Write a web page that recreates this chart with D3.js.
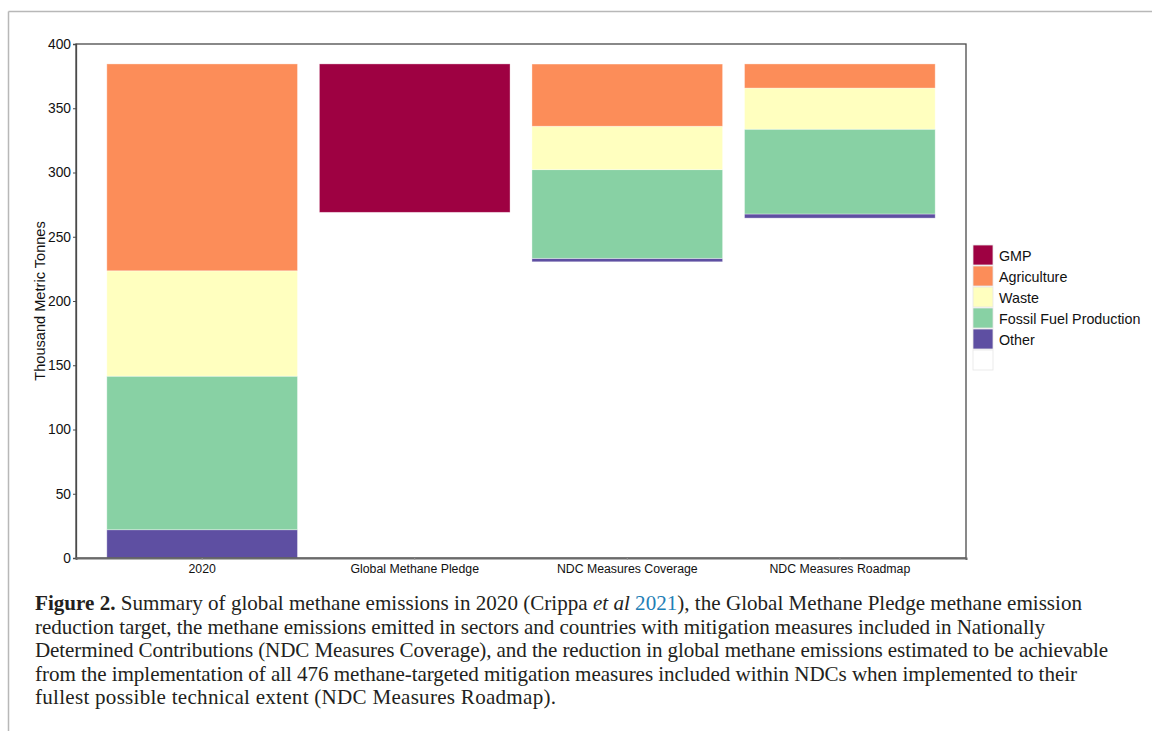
<!DOCTYPE html>
<html>
<head>
<meta charset="utf-8">
<script src="https://cdn.jsdelivr.net/npm/d3@7"></script>
<style>
  html, body { margin: 0; padding: 0; background: #fff; }
  svg { display: block; }
</style>
</head>
<body>
<svg id="chart" width="1152" height="731"></svg>
<script>
// ---- data ----
const categories = ["2020", "Global Methane Pledge", "NDC Measures Coverage", "NDC Measures Roadmap"];
const base        = [0,     269,   230.5, 264.5];
const other       = [22,    0,     2.7,   3.2];
const fossil      = [119.5, 0,     69,    66];
const waste       = [82,    0,     33.8,  32];
const agriculture = [161,   0,     48.4,  18.8];
const gmp         = [0,     115.5, 0,     0];

const seriesKeys   = ["Base", "Other", "Fossil Fuel Production", "Waste", "Agriculture", "GMP"];
const seriesColors = ["#ffffff", "#5e4fa2", "#88d1a4", "#ffffbf", "#fc8d59", "#9e0142"];
const legendKeys   = ["GMP", "Agriculture", "Waste", "Fossil Fuel Production", "Other", "Base"];
const legendLabels = ["GMP", "Agriculture", "Waste", "Fossil Fuel Production", "Other", ""];
const yTicks = [0, 50, 100, 150, 200, 250, 300, 350, 400];
const yTitle = "Thousand Metric Tonnes";

const captionLines = [
  [{t:"Figure 2.", w:"bold"}, {t:" Summary of global methane emissions in 2020 (Crippa "}, {t:"et al", s:"italic"}, {t:" "}, {t:"2021", c:"#1f7fb6"}, {t:"), the Global Methane Pledge methane emission"}],
  [{t:"reduction target, the methane emissions emitted in sectors and countries with mitigation measures included in Nationally"}],
  [{t:"Determined Contributions (NDC Measures Coverage), and the reduction in global methane emissions estimated to be achievable"}],
  [{t:"from the implementation of all 476 methane-targeted mitigation measures included within NDCs when implemented to their"}],
  [{t:"fullest possible technical extent (NDC Measures Roadmap)."}]
];
const captionEnds = [1082, 1045, 1108, 1077, 556];

// ---- build table ----
const seriesData = {"Base": base, "Other": other, "Fossil Fuel Production": fossil,
                    "Waste": waste, "Agriculture": agriculture, "GMP": gmp};
const table = categories.map((c, i) => {
  const row = {category: c};
  seriesKeys.forEach(k => row[k] = seriesData[k][i]);
  return row;
});
const color = d3.scaleOrdinal().domain(seriesKeys).range(seriesColors);

const svg = d3.select("#chart");

// outer figure frame
svg.append("line").attr("x1", 8.5).attr("x2", 1152).attr("y1", 11.5).attr("y2", 11.5)
  .attr("stroke", "#b8b8b8").attr("stroke-width", 1.5);
svg.append("line").attr("x1", 8.5).attr("x2", 8.5).attr("y1", 11.5).attr("y2", 731)
  .attr("stroke", "#b8b8b8").attr("stroke-width", 1.5);

const plot = {left: 76, right: 966, top: 44, bottom: 558};

const x = d3.scaleBand().domain(categories).range([plot.left, plot.right])
  .paddingInner(0.103).paddingOuter(0.145);
const y = d3.scaleLinear().domain([0, 400]).range([plot.bottom, plot.top]);

const stack = d3.stack().keys(seriesKeys);
const stacked = stack(table);

const g = svg.append("g");
g.selectAll("g.series").data(stacked).join("g")
  .attr("class", "series")
  .attr("fill", d => color(d.key))
  .selectAll("rect").data(d => d.map(v => ({v, key: d.key})))
  .join("rect")
  .attr("x", d => x(d.v.data.category))
  .attr("width", x.bandwidth())
  .attr("y", d => y(d.v[1]))
  .attr("height", d => Math.max(0, y(d.v[0]) - y(d.v[1])))
  .attr("stroke", d => d.key === "Base" ? "none" : "#ffffff")
  .attr("stroke-opacity", 0.45)
  .attr("stroke-width", 0.8);

// plot frame
svg.append("rect")
  .attr("x", plot.left).attr("y", plot.top)
  .attr("width", plot.right - plot.left).attr("height", plot.bottom - plot.top)
  .attr("fill", "none").attr("stroke", "#4a4a4a").attr("stroke-width", 1.3);

const sans = "Liberation Sans, Arial, sans-serif";

// y axis
const yAxis = d3.axisLeft(y).tickValues(yTicks).tickSize(3).tickPadding(2).tickFormat(d3.format("d"));
const ya = svg.append("g").attr("transform", `translate(${plot.left},0)`).call(yAxis);
ya.select(".domain").attr("stroke", "#4a4a4a").attr("stroke-width", 1.3);
ya.selectAll(".tick line").attr("stroke", "#4a4a4a");
ya.selectAll("text").attr("font-family", sans)
  .attr("font-size", 13.8).attr("fill", "#111");

// x axis
const xAxis = d3.axisBottom(x).tickSize(2).tickPadding(4);
const xa = svg.append("g").attr("transform", `translate(0,${plot.bottom})`).call(xAxis);
xa.select(".domain").attr("stroke", "#6a6a6a").attr("stroke-width", 2);
xa.selectAll(".tick line").attr("stroke", "#999");
xa.selectAll("text").attr("font-family", sans)
  .attr("font-size", 12.3).attr("fill", "#111");

// y title
svg.append("text")
  .attr("transform", `translate(45,${(plot.top + plot.bottom) / 2 + 0}) rotate(-90)`)
  .attr("text-anchor", "middle")
  .attr("font-family", sans)
  .attr("font-size", 14.6).attr("fill", "#111")
  .text(yTitle);

// legend
const leg = svg.append("g").attr("transform", "translate(973,245)");
const rows = leg.selectAll("g").data(legendKeys).join("g")
  .attr("transform", (d, i) => `translate(0,${i * 21})`);
rows.append("rect").attr("width", 20).attr("height", 20)
  .attr("fill", d => color(d))
  .attr("stroke", "#e6e6e6").attr("stroke-width", 0.8);
rows.append("text").attr("x", 26).attr("y", 15.5)
  .attr("font-family", sans)
  .attr("font-size", 14.3).attr("fill", "#111")
  .text((d, i) => legendLabels[i]);

// caption
const cap = svg.append("g");
const capY0 = 610, capDY = 23.5;
let fontSize = 18;
const fam = "Liberation Serif, 'Times New Roman', serif";
captionLines.forEach((line, i) => {
  const t = cap.append("text").attr("x", 35).attr("y", capY0 + i * capDY)
    .attr("font-family", fam).attr("font-size", fontSize).attr("fill", "#231f20");
  line.forEach(seg => {
    const ts = t.append("tspan").text(seg.t);
    if (seg.w) ts.attr("font-weight", seg.w);
    if (seg.s) ts.attr("font-style", seg.s);
    if (seg.c) ts.attr("fill", seg.c);
  });
});
// scale font so the first line spans the same width as the original
const first = cap.select("text").node();
const w = first.getComputedTextLength();
fontSize = fontSize * (captionEnds[0] - 35) / w;
cap.selectAll("text").attr("font-size", fontSize)
  .attr("textLength", (d, i) => captionEnds[i] - 35)
  .attr("lengthAdjust", "spacing");
</script>
</body>
</html>
